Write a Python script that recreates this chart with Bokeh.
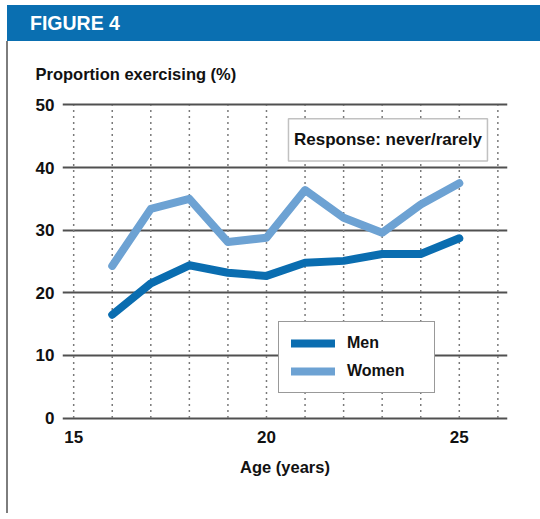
from bokeh.plotting import figure
from bokeh.models import Range1d, Label, BoxAnnotation, Legend, LegendItem, FixedTicker, Div
from bokeh.layouts import column
from bokeh.embed import file_html
from bokeh.resources import INLINE

ages = [16, 17, 18, 19, 20, 21, 22, 23, 24, 25]
men = [16.5, 21.5, 24.4, 23.2, 22.7, 24.8, 25.1, 26.2, 26.2, 28.7]
women = [24.3, 33.4, 35.0, 28.1, 28.8, 36.4, 32.0, 29.6, 34.1, 37.5]
y_ticks = [0, 10, 20, 30, 40, 50]
x_ticks = [15, 20, 25]
grid_x = [15, 16, 17, 18, 19, 20, 21, 22, 23, 24, 25, 26]

FONT = "Liberation Sans"
MEN_C = "#0a6db0"
WOMEN_C = "#6da2d3"
HEAD_C = "#0a6fb1"

header = Div(text="FIGURE 4", width=533, height=36, margin=(5, 0, 0, 7),
             styles={"background-color": HEAD_C, "color": "white",
                     "font-family": FONT, "font-weight": "bold",
                     "font-size": "19.5px", "line-height": "36px",
                     "text-indent": "23px"})

p = figure(output_backend="svg", toolbar_location=None,
           frame_width=443, frame_height=332,
           min_border_left=54, min_border_right=28,
           min_border_top=54, min_border_bottom=86,
           x_range=Range1d(14.71, 26.25), y_range=Range1d(-1.5, 51.5),
           margin=(0, 0, 0, 6),
           styles={"border-left": "2px solid #7d7d7d"})
p.outline_line_color = None
p.background_fill_color = "white"
p.border_fill_color = "white"

p.title.text = "Proportion exercising (%)"
p.title.align = "left"
p.title.offset = -27
p.title.standoff = 25
p.title.text_font = FONT
p.title.text_font_style = "bold"
p.title.text_font_size = "16.5px"
p.title.text_color = "#111111"

# grids
p.xgrid.visible = False
p.ygrid.ticker = FixedTicker(ticks=y_ticks)
p.ygrid.grid_line_color = "#505050"
p.ygrid.grid_line_width = 1.8

p.segment(x0=grid_x, y0=[0] * len(grid_x), x1=grid_x, y1=[50] * len(grid_x),
          line_color="#7a7a7a", line_width=1.5, line_dash="2 4")

# axes
for ax in (p.xaxis[0], p.yaxis[0]):
    ax.axis_line_color = None
    ax.major_tick_line_color = None
    ax.minor_tick_line_color = None
    ax.major_tick_out = 0
    ax.minor_tick_out = 0
    ax.major_label_text_font = FONT
    ax.major_label_text_font_style = "bold"
    ax.major_label_text_font_size = "17px"
    ax.major_label_text_color = "#111111"
p.yaxis.ticker = FixedTicker(ticks=y_ticks)
p.xaxis.ticker = FixedTicker(ticks=x_ticks)
p.yaxis.major_label_standoff = 8
p.xaxis.major_label_standoff = 3
p.xaxis.axis_label = "Age (years)"
p.xaxis.axis_label_text_font = FONT
p.xaxis.axis_label_text_font_style = "bold"
p.xaxis.axis_label_text_font_size = "16.5px"
p.xaxis.axis_label_text_color = "#111111"
p.xaxis.axis_label_standoff = 12

# data lines
r_men = p.line(ages, men, line_color=MEN_C, line_width=8, line_cap="round", line_join="round")
r_women = p.line(ages, women, line_color=WOMEN_C, line_width=8, line_cap="round", line_join="round")

legend = Legend(items=[LegendItem(label="Men", renderers=[r_men]),
                       LegendItem(label="Women", renderers=[r_women])],
                location=(216, 34), glyph_width=44, glyph_height=18,
                label_height=18, label_width=75, spacing=10, padding=12, margin=0,
                label_standoff=12,
                label_text_font=FONT, label_text_font_style="bold",
                label_text_font_size="16px", label_text_color="#111111",
                border_line_color="#333333", border_line_width=1.5,
                background_fill_alpha=1.0)
p.add_layout(legend, "center")

# response box
p.add_layout(BoxAnnotation(left=20.57, right=25.73, bottom=41.05, top=47.8,
                           fill_color="white", fill_alpha=1.0,
                           line_color="#333333", line_width=1.5))
p.add_layout(Label(x=23.15, y=44.4, text="Response: never/rarely",
                   text_align="center", text_baseline="middle",
                   text_font=FONT, text_font_style="bold",
                   text_font_size="17px", text_color="#111111"))

layout = column(header, p, spacing=0)
open("out.html", "w").write(file_html(layout, INLINE))
